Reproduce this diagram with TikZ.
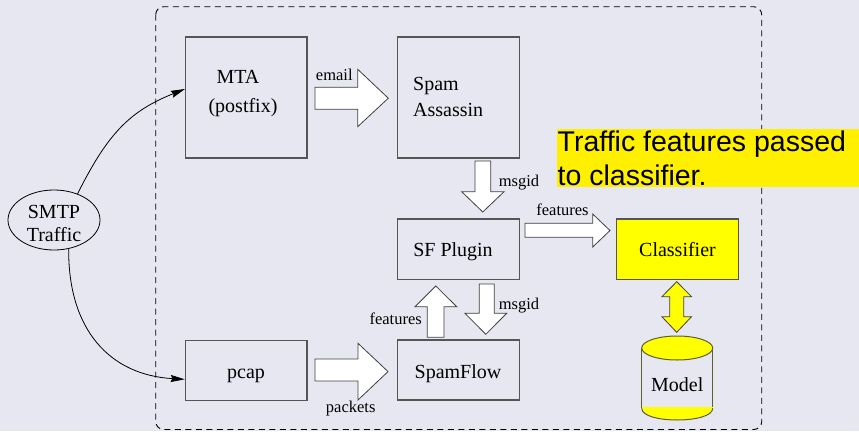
\documentclass[tikz,border=0pt]{standalone}
\usepackage{fontspec}
\setmainfont{Liberation Serif}
\newfontfamily\callfont{Liberation Sans}
\usetikzlibrary{shapes.geometric,arrows.meta}
\definecolor{bgc}{RGB}{231,231,242}
\definecolor{hlc}{RGB}{255,240,0}
\definecolor{clc}{RGB}{255,255,0}
\definecolor{boxline}{RGB}{85,85,85}
\definecolor{cylline}{RGB}{95,95,45}
\tikzset{
  box/.style={draw=boxline, line width=1.1pt, inner sep=0pt},
  big/.style={font=\fontsize{20}{24}\selectfont, inner sep=0pt, anchor=base},
  small/.style={font=\fontsize{16.5}{19}\selectfont, inner sep=0pt, anchor=base},
  fat/.style={draw=black!75, fill=white, line width=0.8pt, line join=miter},
  curvearrow/.style={draw=black, line width=0.8pt, -{Stealth[length=14pt,width=7pt,inset=1.5pt]}},
}
\begin{document}
\begin{tikzpicture}[x=1pt,y=-1pt]
\fill[bgc] (0,0) rectangle (859,431);
\useasboundingbox (0,0) rectangle (859,431);
% dashed frame
\draw[black, line width=0.9pt, dash pattern=on 6pt off 4.5pt, rounded corners=8pt] (155.7,6.7) rectangle (761.7,429.5);

% boxes
\node[box, minimum width=121.5, minimum height=121] (mta) at (246.25,97.5) {};
\node[box, minimum width=121.6, minimum height=121] (sa) at (458.5,97.5) {};
\node[box, minimum width=122, minimum height=60.3] (sf) at (458.3,249.15) {};
\node[box, fill=clc, minimum width=122, minimum height=60.7] (cl) at (677.7,249.35) {};
\node[box, minimum width=122, minimum height=60] (spf) at (458.3,370) {};
\node[box, minimum width=121.7, minimum height=60.4] (pcap) at (246.15,370.5) {};
\node[draw=black, line width=0.8pt, ellipse, minimum width=92, minimum height=60, inner sep=0pt] (smtp) at (54,220) {};

% box texts
\node[big] (mtat) at (238,83.3) {MTA};
\node[big] (mtap) at (243,112.5) {(postfix)};
\node[big, anchor=base west] (sat1) at (413,90.7) {Spam};
\node[big, anchor=base west] (sat2) at (413,116) {Assassin};
\node[big] (sft) at (453,256.7) {SF Plugin};
\node[big] (clt) at (677.5,256.3) {Classifier};
\node[big] (spft) at (458,378.3) {SpamFlow};
\node[big] (pcapt) at (246,378) {pcap};
\node[big] (smtpt1) at (54,218.3) {SMTP};
\node[big] (smtpt2) at (54,241.7) {Traffic};

% curved arrows
\draw[curvearrow] (smtp.48) .. controls (108,133) and (130,111) .. (mta.west |- 0,89);
\draw[curvearrow] (smtp.-63) .. controls (68,330) and (110,375) .. (pcap.west |- 0,379.3);

% fat arrows
\draw[fat] (315,87.3) -- (357.7,87.3) -- (357.7,69.3) -- (388.3,98.2) -- (357.7,126.7) -- (357.7,109.3) -- (315,109.3) -- cycle;
\node[small] (emaill) at (334.3,80.3) {email};
\draw[fat] (315,359) -- (358,359) -- (358,343.3) -- (388,371.6) -- (358,400) -- (358,381) -- (315,381) -- cycle;
\node[small] (packl) at (350.7,412.3) {packets};
\draw[fat] (525,223.3) -- (592.7,223.3) -- (592.7,214) -- (610,230.5) -- (592.7,247) -- (592.7,237.3) -- (525,237.3) -- cycle;
\node[small] (featl1) at (562.5,215.7) {features};
\draw[fat] (475,161) -- (490.7,161) -- (490.7,191.7) -- (504,191.7) -- (482.8,212) -- (461.7,191.7) -- (475,191.7) -- cycle;
\node[small] (msgl1) at (519,186) {msgid};
\draw[fat] (427.3,337.3) -- (427.3,306.7) -- (415,306.7) -- (435.8,286) -- (456.7,306.7) -- (444,306.7) -- (444,337.3) -- cycle;
\node[small] (featl2) at (395.7,324.3) {features};
\draw[fat] (479.3,284) -- (494.3,284) -- (494.3,313.3) -- (506.7,313.3) -- (485.8,334.3) -- (465,313.3) -- (479.3,313.3) -- cycle;
\node[small] (msgl2) at (519,309) {msgid};

% yellow double arrow
\draw[fat, fill=clc] (676.7,281.7) -- (691.5,296.7) -- (683.7,296.7) -- (683.7,316.7) -- (691.5,316.7) -- (676.7,332.3) -- (661.9,316.7) -- (669.7,316.7) -- (669.7,296.7) -- (661.9,296.7) -- cycle;

% cylinder
\draw[cylline, line width=1pt] (641.7,348) -- (641.7,408.3);
\draw[cylline, line width=1pt] (712.7,348) -- (712.7,408.3);
\fill[clc] (641.7,407.3) -- (712.7,407.3) .. controls (712.7,423.9) and (641.7,423.9) .. (641.7,407.3) -- cycle;
\draw[cylline, line width=1pt] (641.7,408.3) .. controls (641.7,423.9) and (712.7,423.9) .. (712.7,408.3);
\draw[cylline, line width=1pt, fill=clc] (677.2,348) ellipse [x radius=35.5, y radius=12];
\node[big] (modt) at (677.2,391.7) {Model};

% callout
\fill[hlc] (557,129.3) rectangle (859,187);
\node[font=\callfont\fontsize{28.5}{33}\selectfont, inner sep=0pt, anchor=base west] (call1) at (557.5,151.7) {Traffic features passed};
\node[font=\callfont\fontsize{28.5}{33}\selectfont, inner sep=0pt, anchor=base west] (call2) at (557.5,185) {to classifier.};
\end{tikzpicture}
\end{document}
